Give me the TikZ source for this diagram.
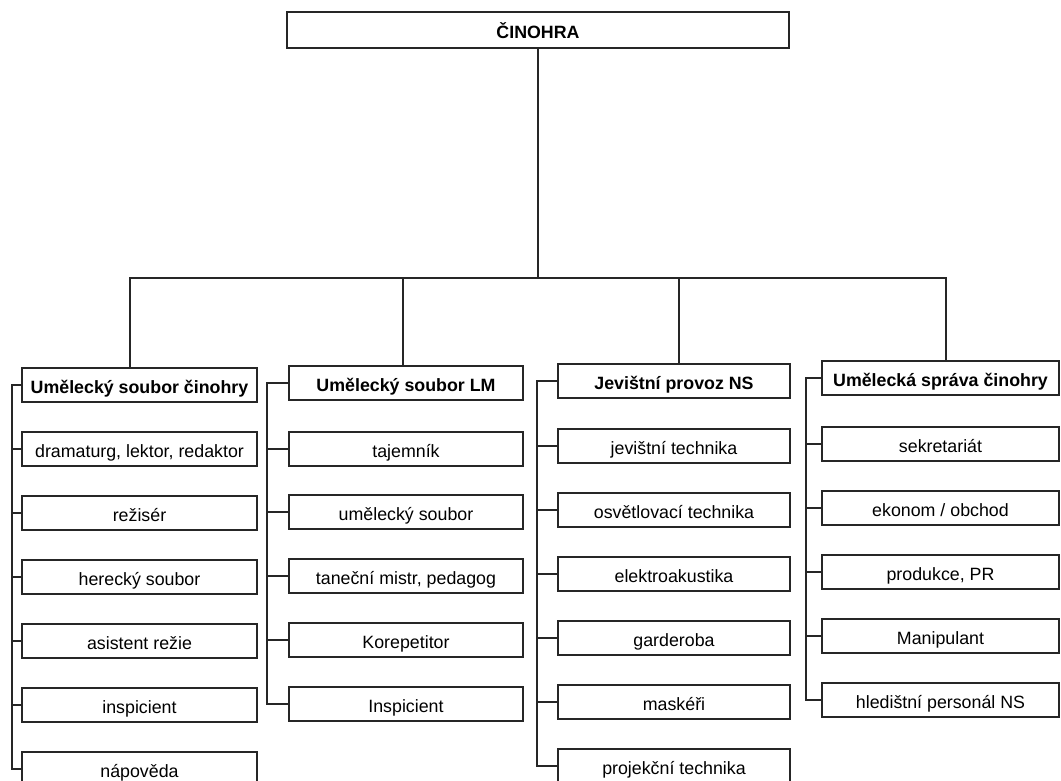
\documentclass[tikz,border=0pt]{standalone}
\usepackage{fontspec}
\setmainfont{Liberation Sans}
\usetikzlibrary{positioning, calc}

\tikzset{
  headbox/.style={draw=black!85, line width=1.2pt, minimum height=34pt, inner sep=0pt,
    text height=17pt, text depth=0pt, font=\bfseries\fontsize{17.8}{20}\selectfont},
  itembox/.style={draw=black!85, line width=1.2pt, minimum height=34pt, inner sep=0pt,
    text height=17pt, text depth=0pt, font=\fontsize{17.8}{20}\selectfont},
  link/.style={draw=black!85, line width=1.2pt}
}

\begin{document}
\begin{tikzpicture}[x=1pt, y=-1pt]
\useasboundingbox (0,0) rectangle (1061,780);

\node[headbox, minimum width=502pt, minimum height=36pt] (cin) at (538,30) {ČINOHRA};

% Umelecky soubor cinohry
\node[headbox, minimum width=235pt] (a0) at (139.5,385) {Umělecký soubor činohry};
\node[itembox, minimum width=235pt] (a1) at (139.5,449) {dramaturg, lektor, redaktor};
\node[itembox, minimum width=235pt] (a2) at (139.5,513) {režisér};
\node[itembox, minimum width=235pt] (a3) at (139.5,577) {herecký soubor};
\node[itembox, minimum width=235pt] (a4) at (139.5,641) {asistent režie};
\node[itembox, minimum width=235pt] (a5) at (139.5,705) {inspicient};
\node[itembox, minimum width=235pt] (a6) at (139.5,769) {nápověda};

% Umelecky soubor LM
\node[headbox, minimum width=234pt] (b0) at (406,383) {Umělecký soubor LM};
\node[itembox, minimum width=234pt] (b1) at (406,449) {tajemník};
\node[itembox, minimum width=234pt] (b2) at (406,512) {umělecký soubor};
\node[itembox, minimum width=234pt] (b3) at (406,576) {taneční mistr, pedagog};
\node[itembox, minimum width=234pt] (b4) at (406,640) {Korepetitor};
\node[itembox, minimum width=234pt] (b5) at (406,704) {Inspicient};

% Jevistni provoz NS
\node[headbox, minimum width=232pt] (c0) at (674,381) {Jevištní provoz NS};
\node[itembox, minimum width=232pt] (c1) at (674,446) {jevištní technika};
\node[itembox, minimum width=232pt] (c2) at (674,510) {osvětlovací technika};
\node[itembox, minimum width=232pt] (c3) at (674,574) {elektroakustika};
\node[itembox, minimum width=232pt] (c4) at (674,638) {garderoba};
\node[itembox, minimum width=232pt] (c5) at (674,702) {maskéři};
\node[itembox, minimum width=232pt] (c6) at (674,766) {projekční technika};

% Umelecka sprava cinohry
\node[headbox, minimum width=237pt] (d0) at (940.5,378) {Umělecká správa činohry};
\node[itembox, minimum width=237pt] (d1) at (940.5,444) {sekretariát};
\node[itembox, minimum width=237pt] (d2) at (940.5,508) {ekonom / obchod};
\node[itembox, minimum width=237pt] (d3) at (940.5,572) {produkce, PR};
\node[itembox, minimum width=237pt] (d4) at (940.5,636) {Manipulant};
\node[itembox, minimum width=237pt] (d5) at (940.5,700) {hledištní personál NS};

\coordinate (bus) at (0,278);
\coordinate (sa) at (12,0);
\coordinate (sb) at (267,0);
\coordinate (sc) at (537,0);
\coordinate (sd) at (806,0);

\draw[link] (cin.south) -- (cin.south |- bus);
\draw[link] ([xshift=-9.5pt]a0.north) |- ([xshift=5.5pt]d0.north |- bus) -- ([xshift=5.5pt]d0.north);
\draw[link] ([xshift=-3pt]b0.north) -- ([xshift=-3pt]b0.north |- bus);
\draw[link] ([xshift=5pt]c0.north) -- ([xshift=5pt]c0.north |- bus);

\draw[link] (a0.west) -- (a0.west -| sa) -- (a6.west -| sa) -- (a6.west);
\draw[link] (a1.west) -- (a1.west -| sa);
\draw[link] (a2.west) -- (a2.west -| sa);
\draw[link] (a3.west) -- (a3.west -| sa);
\draw[link] (a4.west) -- (a4.west -| sa);
\draw[link] (a5.west) -- (a5.west -| sa);

\draw[link] (b0.west) -- (b0.west -| sb) -- (b5.west -| sb) -- (b5.west);
\draw[link] (b1.west) -- (b1.west -| sb);
\draw[link] (b2.west) -- (b2.west -| sb);
\draw[link] (b3.west) -- (b3.west -| sb);
\draw[link] (b4.west) -- (b4.west -| sb);

\draw[link] (c0.west) -- (c0.west -| sc) -- (c6.west -| sc) -- (c6.west);
\draw[link] (c1.west) -- (c1.west -| sc);
\draw[link] (c2.west) -- (c2.west -| sc);
\draw[link] (c3.west) -- (c3.west -| sc);
\draw[link] (c4.west) -- (c4.west -| sc);
\draw[link] (c5.west) -- (c5.west -| sc);

\draw[link] (d0.west) -- (d0.west -| sd) -- (d5.west -| sd) -- (d5.west);
\draw[link] (d1.west) -- (d1.west -| sd);
\draw[link] (d2.west) -- (d2.west -| sd);
\draw[link] (d3.west) -- (d3.west -| sd);
\draw[link] (d4.west) -- (d4.west -| sd);
\end{tikzpicture}
\end{document}
